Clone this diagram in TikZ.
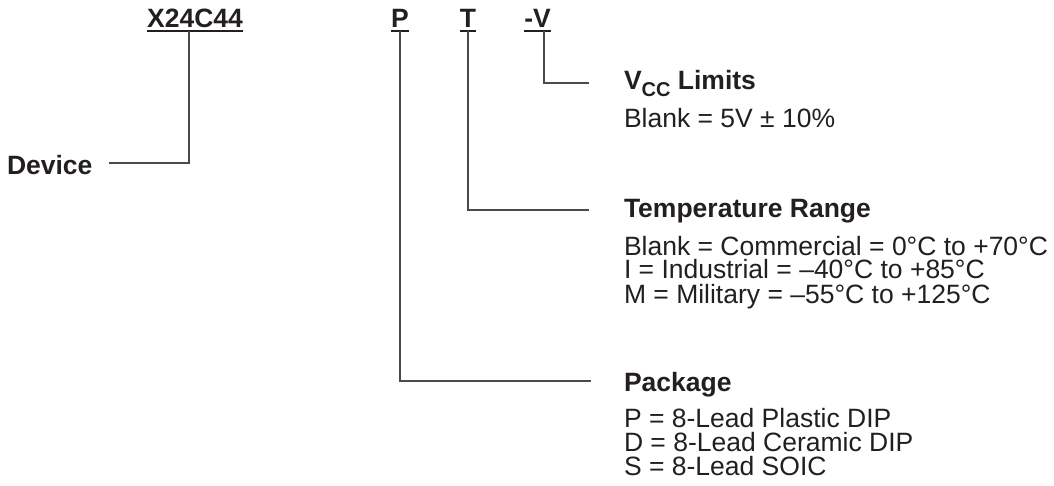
\documentclass[tikz,border=0pt]{standalone}
\usepackage{fontspec}
\setmainfont{Liberation Sans}
\definecolor{ink}{HTML}{231F20}
\definecolor{wire}{HTML}{4A4A4A}
\begin{document}
\begin{tikzpicture}[x=1pt,y=-1pt,
  every node/.style={inner sep=0pt,outer sep=0pt,text=ink,font=\fontsize{26.5}{25}\selectfont},
  code/.style={anchor=base,font=\fontsize{26.5}{25}\selectfont\bfseries},
  title/.style={anchor=base west,font=\fontsize{26.5}{25}\selectfont\bfseries},
  item/.style={anchor=base west},
  uline/.style={draw=ink,line width=1.5pt},
  wireline/.style={draw=wire,line width=1.4pt}]
\useasboundingbox (0,0) rectangle (1054,486);
% part number codes
\node[code] (X) at (195,28) {X24C44};
\node[code] (P) at (400,28) {P};
\node[code] (T) at (468,28) {T};
\node[code] (V) at (537.5,28) {-V};
\foreach \n in {X,P,T,V}
  \draw[uline] ([yshift=-3pt]\n.base west) -- ([yshift=-3pt]\n.base east);
% labels
\node[title] (dev) at (7,175) {Device};
\node[title] (vcc) at (624,90) {V\raisebox{-7pt}{\fontsize{20}{20}\selectfont CC} Limits};
\node[item] (vcc1) at (624,128) {Blank = 5V ± 10\%};
\node[title] (tmp) at (624,218) {Temperature Range};
\node[item] (tmp1) at (624,255) {Blank = Commercial = 0°C to +70°C};
\node[item] (tmp2) at (624,279) {I = Industrial = –40°C to +85°C};
\node[item] (tmp3) at (624,303.5) {M = Military = –55°C to +125°C};
\node[title] (pkg) at (624,391.5) {Package};
\node[item] (pkg1) at (624,427) {P = 8-Lead Plastic DIP};
\node[item] (pkg2) at (624,451) {D = 8-Lead Ceramic DIP};
\node[item] (pkg3) at (624,475) {S = 8-Lead SOIC};
% connector ends
\coordinate (devend) at (109,163);
\coordinate (vccend) at (589,83);
\coordinate (tmpend) at (589,210);
\coordinate (pkgend) at (591,381);
% connectors
\draw[wireline] ([xshift=-6pt,yshift=-3pt]X.base) |- (devend);
\draw[wireline] ([yshift=-3pt]P.base) |- (pkgend);
\draw[wireline] ([yshift=-3pt]T.base) |- (tmpend);
\draw[wireline] ([xshift=6.5pt,yshift=-3pt]V.base) |- (vccend);
\end{tikzpicture}
\end{document}
